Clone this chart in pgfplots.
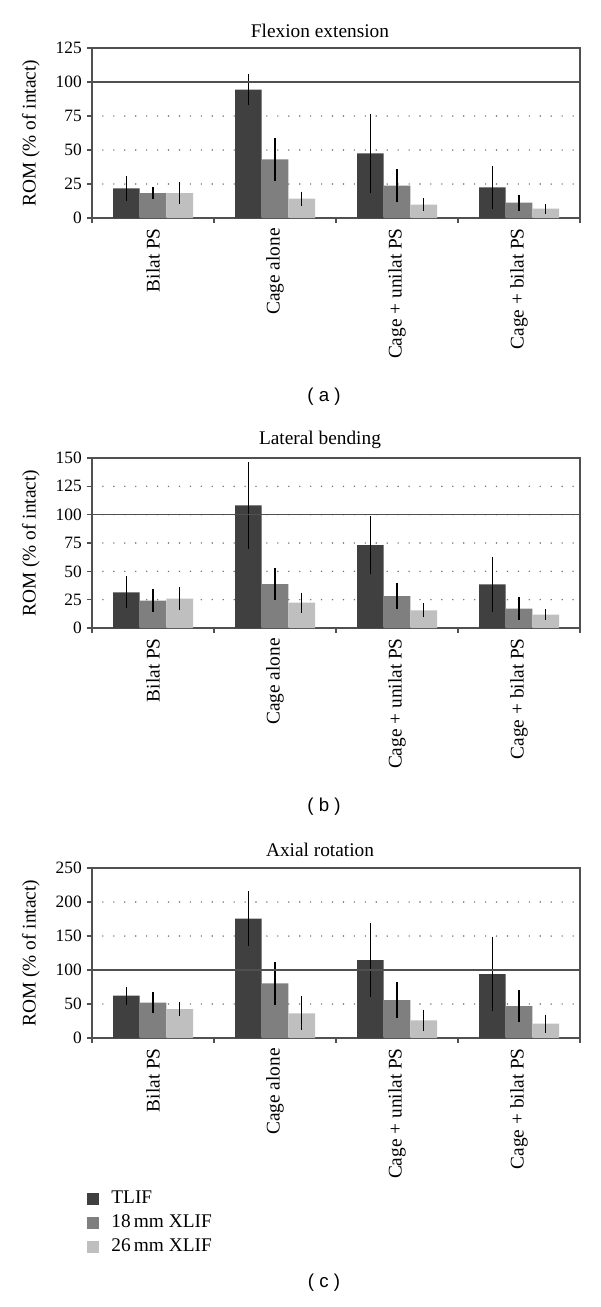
\documentclass[border=0pt]{standalone}
\usepackage{fontspec}
\setmainfont{Liberation Serif}
\newfontfamily\sansf{Liberation Sans}
\usepackage{pgfplots}
\usepackage{pgfplotstable}
\pgfplotsset{compat=1.18}
\definecolor{cA}{HTML}{404040}
\definecolor{cB}{HTML}{7F7F7F}
\definecolor{cC}{HTML}{BFBFBF}
\definecolor{axc}{HTML}{505050}
\definecolor{grd}{HTML}{707070}

% columns: group, TLIF, err, 18mm XLIF, err, 26mm XLIF, err
\pgfplotstableread{
x a ea b eb c ec
1 21.7 7.8 18.3 3.2 18.3 6.6
2 94.4 10.0 43.1 14.6 14.2 4.0
3 47.5 28.0 23.8 11.0 9.8 3.4
4 22.5 14.7 11.3 4.7 6.9 2.4
}\tabA
\pgfplotstableread{
x a ea b eb c ec
1 31.5 12.6 24.1 8.4 25.9 8.8
2 108.2 36.8 38.8 12.5 22.4 7.2
3 73.2 24.3 28.2 9.6 15.6 4.7
4 38.5 22.6 17.1 8.4 11.8 3.4
}\tabB
\pgfplotstableread{
x a ea b eb c ec
1 62.3 10.5 52.0 13.3 42.6 7.8
2 175.5 37.5 80.4 28.7 36.3 22.3
3 114.7 51.5 55.9 23.8 26.0 13.3
4 94.1 52.5 47.0 20.4 21.0 10.8
}\tabC

\pgfplotsset{
  panel/.style={
    width=366pt, height=127.5pt, scale only axis,
    anchor=south west,
    xmin=0.5, xmax=4.5, ymin=0,
    ybar=0pt, bar width=20pt,
    /pgf/number format/assume math mode=true,
    axis line style={axc, line width=1pt},
    tick style={axc, line width=0.8pt},
    tick align=outside,
    major tick length=3.5pt,
    xtick={0.5,1.5,2.5,3.5,4.5},
    xticklabels={},
    extra x ticks={1,2,3,4},
    extra x tick labels={Bilat PS, Cage alone, Cage + unilat PS, Cage + bilat PS},
    extra x tick style={major tick length=0pt, tick style={draw=none}},
    x tick label style={rotate=90, anchor=east, font=\fontsize{14.5}{16}\selectfont, inner sep=0pt, xshift=-7.5pt},
    xtick pos=bottom, ytick pos=left,
    y tick label style={font=\fontsize{13}{15}\selectfont, inner sep=1pt, xshift=-3pt},
    ylabel={ROM (\% of intact)},
    ylabel style={at={(axis description cs:-0.125,0.5)}, anchor=center, font=\fontsize{14.5}{16}\selectfont},
    ymajorgrids,
    major grid style={grd, line width=1.2pt, line cap=round, dash pattern=on 0pt off 8.2pt},
    error bars/error bar style={black, line width=0.8pt},
    error bars/error mark options={black, mark size=1.3pt, line width=0.8pt},
    legend image code/.code={\fill[##1] (0pt,-4.5pt) rectangle (9pt,4.5pt);},
  },
  sA/.style={fill=cA, draw=none},
  sB/.style={fill=cB, draw=none},
  sC/.style={fill=cC, draw=none},
}

\begin{document}
\begin{tikzpicture}
\path[use as bounding box] (0,0) rectangle (450pt,-980.25pt);

% ---------- (a) ----------
\node[font=\fontsize{14.5}{16}\selectfont] at (320*0.75pt,-31*0.75pt) {Flexion extension};
\begin{axis}[panel, at={(92*0.75pt,-218*0.75pt)}, ymax=125, ytick={0,25,50,75,100,125}]
\addplot+[sA, error bars/.cd, y dir=both, y explicit] table[x=x, y=a, y error=ea] {\tabA};
\addplot+[sB, error bars/.cd, y dir=both, y explicit] table[x=x, y=b, y error=eb] {\tabA};
\addplot+[sC, error bars/.cd, y dir=both, y explicit] table[x=x, y=c, y error=ec] {\tabA};
\draw[axc, line width=1.1pt] (axis cs:0.5,100) -- (axis cs:4.5,100);
\end{axis}
\node[font=\sansf\fontsize{14}{16}\selectfont] at (324*0.75pt,-397*0.75pt) {( a )};

% ---------- (b) ----------
\node[font=\fontsize{14.5}{16}\selectfont] at (320*0.75pt,-440*0.75pt) {Lateral bending};
\begin{axis}[panel, at={(92*0.75pt,-628*0.75pt)}, ymax=150, ytick={0,25,50,75,100,125,150}]
\addplot+[sA, error bars/.cd, y dir=both, y explicit] table[x=x, y=a, y error=ea] {\tabB};
\addplot+[sB, error bars/.cd, y dir=both, y explicit] table[x=x, y=b, y error=eb] {\tabB};
\addplot+[sC, error bars/.cd, y dir=both, y explicit] table[x=x, y=c, y error=ec] {\tabB};
\draw[axc, line width=1.1pt] (axis cs:0.5,100) -- (axis cs:4.5,100);
\end{axis}
\node[font=\sansf\fontsize{14}{16}\selectfont] at (324*0.75pt,-807*0.75pt) {( b )};

% ---------- (c) ----------
\node[font=\fontsize{14.5}{16}\selectfont] at (320*0.75pt,-850*0.75pt) {Axial rotation};
\begin{axis}[panel, at={(92*0.75pt,-1038*0.75pt)}, ymax=250, ytick={0,50,100,150,200,250},
  legend style={draw=none, fill=none, inner sep=0pt, at={(axis description cs:-0.01,-0.895)}, anchor=north west,
    font=\fontsize{14.5}{16}\selectfont, nodes={inner sep=0pt, text height=10pt, text depth=3pt}, row sep=5pt,
    /tikz/every odd column/.append style={column sep=9pt}},
  legend cell align=left]
\addplot+[sA, error bars/.cd, y dir=both, y explicit] table[x=x, y=a, y error=ea] {\tabC};
\addplot+[sB, error bars/.cd, y dir=both, y explicit] table[x=x, y=b, y error=eb] {\tabC};
\addplot+[sC, error bars/.cd, y dir=both, y explicit] table[x=x, y=c, y error=ec] {\tabC};
\draw[axc, line width=1.1pt] (axis cs:0.5,100) -- (axis cs:4.5,100);
\legend{TLIF, 18\,mm XLIF, 26\,mm XLIF}
\end{axis}
\node[font=\sansf\fontsize{14}{16}\selectfont] at (324*0.75pt,-1283*0.75pt) {( c )};
\end{tikzpicture}
\end{document}
